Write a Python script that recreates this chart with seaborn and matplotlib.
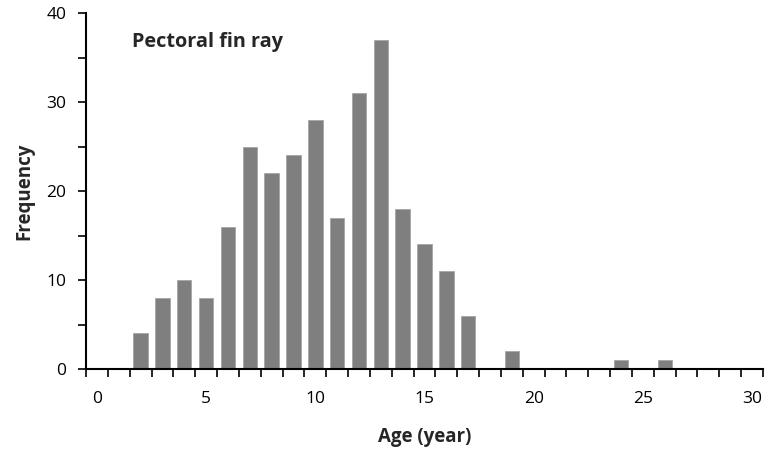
import matplotlib
matplotlib.use("Agg")
import matplotlib.pyplot as plt
import seaborn as sns
import pandas as pd
import numpy as np
from matplotlib.ticker import MultipleLocator, FixedLocator

ages = list(range(0, 31))
freq = [0, 0, 4, 8, 10, 8, 16, 25, 22, 24, 28, 17, 31, 37, 18, 14, 11, 6,
        0, 2, 0, 0, 0, 0, 1, 0, 1, 0, 0, 0, 0]
xtick_labels = ["0", "5", "10", "15", "20", "25", "30"]

sns.set_theme(style="white")
plt.rcParams['font.family'] = ['Open Sans', 'DejaVu Sans']

df = pd.DataFrame({"age": ages, "freq": freq})

fig = plt.figure(figsize=(7.73, 4.49), dpi=100)
ax = fig.add_axes([86/773, 1 - 369/449, (763-86)/773, (369-13)/449])

sns.barplot(data=df, x="age", y="freq", color="#7f7f7f", saturation=1,
            width=0.66, edgecolor="#a6a6a6", linewidth=0.6, ax=ax)

ax.set_xlim(-0.5, 30.5)
ax.set_ylim(0, 40)
ax.set_xticks([0, 5, 10, 15, 20, 25, 30])
ax.set_xticklabels(xtick_labels)
ax.xaxis.set_minor_locator(FixedLocator(np.arange(-0.5, 31, 1.0)))
ax.tick_params(axis="x", which="major", length=0, pad=16, labelsize=12.5, colors="black")
ax.tick_params(axis="x", which="minor", length=6, width=1.2, direction="out", bottom=True, color="black")
ax.yaxis.set_major_locator(MultipleLocator(10))
ax.yaxis.set_minor_locator(MultipleLocator(5))
ax.tick_params(axis="y", which="both", length=6, width=1.2, direction="out", left=True,
               labelsize=12.5, colors="black", pad=8)

for s in ["top", "right"]:
    ax.spines[s].set_visible(False)
for s in ["left", "bottom"]:
    ax.spines[s].set_color("black")
    ax.spines[s].set_linewidth(1.5)

ax.set_xlabel("Age (year)", fontsize=13.5, fontweight="bold", labelpad=14)
ax.set_ylabel("Frequency", fontsize=13.5, fontweight="bold", labelpad=9)
ax.text(1.6, 36.7, "Pectoral fin ray", fontsize=14.3, fontweight="bold", va="center", ha="left")

fig.savefig("out.png", dpi=100)
